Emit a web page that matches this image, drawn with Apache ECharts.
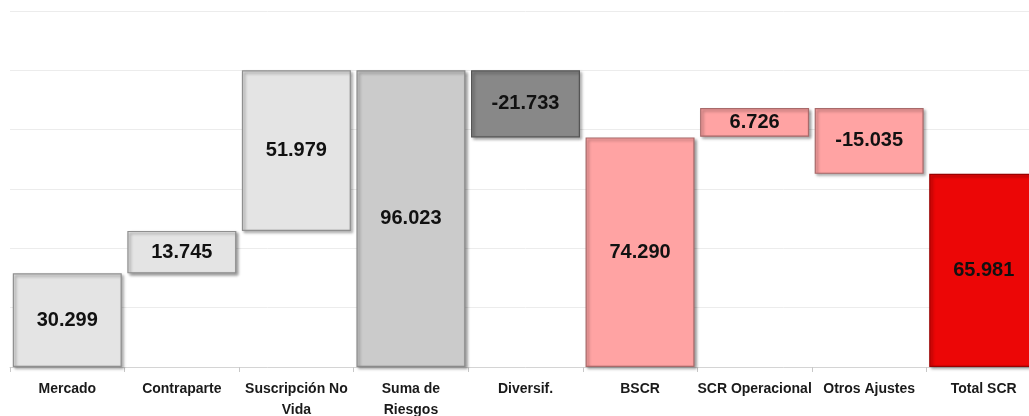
<!DOCTYPE html>
<html>
<head>
<meta charset="utf-8">
<script src="https://cdn.jsdelivr.net/npm/echarts@6/dist/echarts.min.js"></script>
<style>html,body{margin:0;padding:0;background:#fff;overflow:hidden;width:1029px;height:416px;}#c{width:1041px;height:416px;}</style>
</head>
<body>
<div id="c"></div>
<script>
// Categories
const categories = ['Mercado', 'Contraparte', 'Suscripción No\nVida', 'Suma de\nRiesgos', 'Diversif.', 'BSCR', 'SCR Operacional', 'Otros Ajustes', 'Total SCR'];
// Data labels as printed on the bars
const labels = ['30.299', '13.745', '51.979', '96.023', '-21.733', '74.290', '6.726', '-15.035', '65.981'];
// Bar extents (low / high) as drawn in the picture
const lows  = [0,      30.299, 44.044, 0,      74.290, 0,      74.5,  62.5,  0];
const highs = [30.299, 44.044, 96.023, 96.023, 96.023, 74.290, 83.8,  83.8,  62.5];
// Fill colours per bar
const fills   = ['#e4e4e4', '#e4e4e4', '#e4e4e4', '#cbcbcb', '#888888', '#ffa3a3', '#ffa3a3', '#ffa3a3', '#ec0606'];
const borders = ['#8f8f8f', '#8f8f8f', '#8f8f8f', '#8a8a8a', '#555555', '#a86a6a', '#a86a6a', '#a86a6a', '#9a0000'];

const chart = echarts.init(document.getElementById('c'));
chart.setOption({
  animation: false,
  grid: { left: 10, top: 11, right: 0, height: 356, containLabel: false, outerBoundsMode: 'none' },
  xAxis: {
    type: 'category',
    data: categories,
    axisLine: { lineStyle: { color: '#d4d4d4', width: 1 } },
    axisTick: { show: true, length: 5, lineStyle: { color: '#c8c8c8' } },
    axisLabel: {
      interval: 0, margin: 12, color: '#1a1a1a', fontWeight: 'bold',
      fontFamily: 'Liberation Sans', fontSize: 14, lineHeight: 21
    }
  },
  yAxis: {
    type: 'value', min: 0, max: 115.2, interval: 19.2,
    axisLabel: { show: false }, axisLine: { show: false }, axisTick: { show: false },
    splitLine: { lineStyle: { color: '#ececec', width: 1 } }
  },
  series: [
    {
      type: 'bar', stack: 'w', barWidth: 109, silent: true,
      itemStyle: { color: 'transparent' },
      data: lows
    },
    {
      type: 'bar', stack: 'w', barWidth: 109,
      data: highs.map((h, i) => ({
        value: h - lows[i],
        itemStyle: {
          color: fills[i], borderColor: borders[i], borderWidth: 1.2,
          shadowColor: 'rgba(0,0,0,0.4)', shadowBlur: 3, shadowOffsetX: 2, shadowOffsetY: 2
        }
      })),
      label: {
        show: true, position: 'inside', color: '#111',
        fontFamily: 'Liberation Sans', fontWeight: 'bold', fontSize: 20,
        formatter: p => labels[p.dataIndex]
      }
    }
  ]
});
</script>
</body>
</html>
